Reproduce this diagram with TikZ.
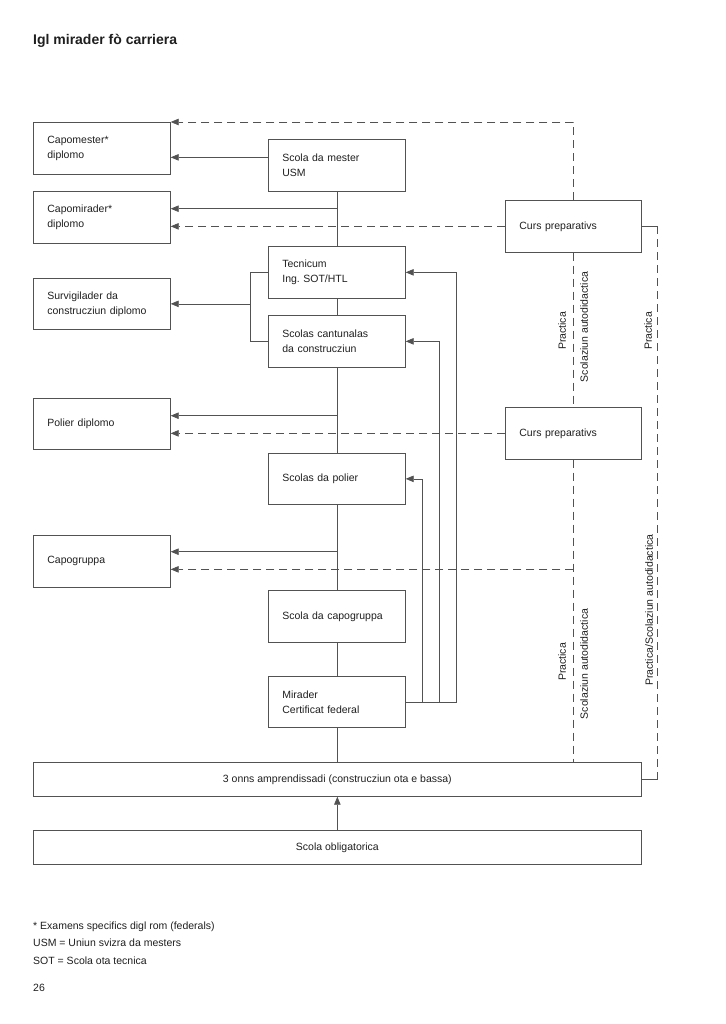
\documentclass[tikz,border=0pt]{standalone}
\usepackage{fontspec}
\setmainfont{Liberation Sans}
\usetikzlibrary{arrows.meta,calc}
\definecolor{lc}{gray}{0.32}
\definecolor{tc}{gray}{0.12}
\newcommand{\fs}{\fontsize{10.5}{15}\selectfont}
\frenchspacing
\begin{document}
\begin{tikzpicture}[x=1pt,y=-1pt,
  box/.style={draw=lc, line width=0.7pt, anchor=north west, minimum height=52pt, text width=109pt, inner xsep=14pt, inner ysep=0pt, align=left, font=\fs, text=tc},
  rbox/.style={box, text width=108pt},
  wbox/.style={draw=lc, line width=0.7pt, anchor=north west, minimum height=34pt, minimum width=608pt, inner sep=0pt, align=center, font=\fs, text=tc},
  ln/.style={draw=lc, line width=0.7pt},
  arr/.style={ln, -{Triangle[length=8pt,width=6.5pt]}},
  dl/.style={ln, dash pattern=on 8pt off 5pt},
  darr/.style={arr, dash pattern=on 8pt off 5pt},
  lab/.style={font=\fs, text=tc, inner sep=0pt},
  foot/.style={font=\fs, text=tc, inner sep=0pt, anchor=base west}]
\useasboundingbox (0,0) rectangle (725,1024);

\node[font=\bfseries\fontsize{14}{16}\selectfont, text=tc, inner sep=0pt, anchor=base west] (title) at (33,45) {Igl mirader fò carriera};

% left column
\node[box] (cm) at (33,122) {Capomester*\\diplomo};
\node[box] (cmi) at (33,191) {Capomirader*\\diplomo};
\node[box, minimum height=51pt] (surv) at (33,278) {Survigilader da\\construcziun diplomo};
\node[box, minimum height=51pt] (pold) at (33,398) {Polier diplomo};
\node[box] (capg) at (33,535) {Capogruppa};

% middle column
\node[box] (usm) at (268,139) {Scola da mester\\USM};
\node[box] (tec) at (268,246) {Tecnicum\\Ing. SOT/HTL};
\node[box] (scc) at (268,315) {Scolas cantunalas\\da construcziun};
\node[box, minimum height=51pt] (spol) at (268,453) {Scolas da polier};
\node[box] (scap) at (268,590) {Scola da capogruppa};
\node[box, minimum height=51pt] (mir) at (268,676) {Mirader\\Certificat federal};

% right column
\node[rbox] (cp1) at (505,200) {Curs preparativs};
\node[rbox] (cp2) at (505,407) {Curs preparativs};

% wide boxes
\node[wbox] (amp) at (33,762) {3 onns amprendissadi (construcziun ota e bassa)};
\node[wbox] (obl) at (33,830) {Scola obligatorica};

% central spine
\draw[ln] (usm.south) -- (tec.north);
\draw[ln] (tec.south) -- (scc.north);
\draw[ln] (scc.south) -- (spol.north);
\draw[ln] (spol.south) -- (scap.north);
\draw[ln] (scap.south) -- (mir.north);
\draw[ln] (mir.south) -- (mir.south |- amp.north);
\draw[arr] (obl.north) -- (amp.south);

% solid arrows to the left
\draw[arr] ([yshift=8pt]usm.west) -- ([yshift=8pt]usm.west -| cm.east);
\coordinate (s1) at ($(usm.south)+(0,17)$);
\draw[arr] (s1) -- (s1 -| cmi.east);
\coordinate (s2) at ($(scc.south)+(0,48)$);
\draw[arr] (s2) -- (s2 -| pold.east);
\coordinate (s3) at ($(spol.south)+(0,47)$);
\draw[arr] (s3) -- (s3 -| capg.east);

% bracket Tecnicum / Scolas cantunalas
\coordinate (brk) at ($(tec.west)+(-18,0)$);
\draw[ln] (tec.west) -- (brk) |- (scc.west);
\draw[arr] (brk |- surv.east) -- (surv.east);

% dashed arrows
\draw[darr] (cp1.north) -- (cp1.north |- cm.north east) -- (cm.north east);
\draw[darr] (cp1.west) -- (cp1.west -| cmi.east);
\draw[darr] (cp2.west) -- (cp2.west -| pold.east);
\draw[dl] (cp1.south) -- (cp2.north);
\draw[dl] (cp2.south) -- (cp2.south |- amp.north);
\coordinate (d3) at ($(capg.east)+(0,8)$);
\draw[darr] (d3 -| cp2.south) -- (d3);

% right loop
\coordinate (r1) at ($(cp1.east)+(16,0)$);
\draw[ln] (cp1.east) -- (r1);
\draw[dl] (r1) -- (r1 |- amp.east);
\draw[ln] (r1 |- amp.east) -- (amp.east);

% feedback lines from Mirader
\coordinate (f1) at ($(mir.east)+(17,0)$);
\coordinate (f2) at ($(mir.east)+(34,0)$);
\coordinate (f3) at ($(mir.east)+(51,0)$);
\draw[ln] (mir.east) -- (f3);
\draw[arr] (f1) |- (spol.east);
\draw[arr] (f2) |- (scc.east);
\draw[arr] (f3) |- (tec.east);

% rotated labels
\node[lab, rotate=90] (l1) at (562,331) {Practica};
\node[lab, rotate=90] (l2) at (584,327) {Scolaziun autodidactica};
\node[lab, rotate=90] (l3) at (648,331) {Practica};
\node[lab, rotate=90] (l4) at (562,662) {Practica};
\node[lab, rotate=90] (l5) at (584,664) {Scolaziun autodidactica};
\node[lab, rotate=90] (l6) at (649,610) {Practica/Scolaziun autodidactica};

% footnotes
\node[foot] (n1) at (33,929) {* Examens specifics digl rom (federals)};
\node[foot] (n2) at (33,946) {USM = Uniun svizra da mesters};
\node[foot] (n3) at (33,964) {SOT = Scola ota tecnica};
\node[foot] (n4) at (33,991) {26};
\end{tikzpicture}
\end{document}
